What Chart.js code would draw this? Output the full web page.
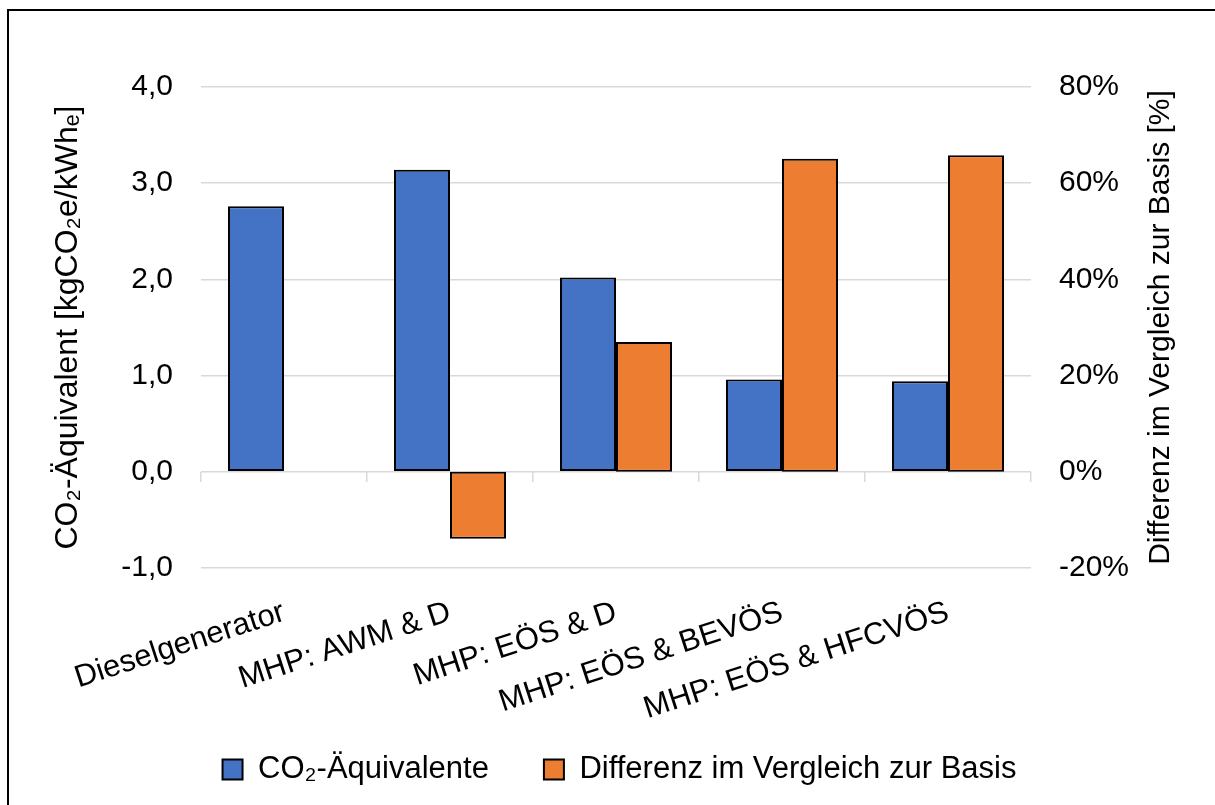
<!DOCTYPE html>
<html>
<head>
<meta charset="utf-8">
<script src="https://cdn.jsdelivr.net/npm/chart.js@4.4.1/dist/chart.umd.min.js"></script>
<style>
  html, body { margin: 0; padding: 0; background: #fff; }
  #wrap { position: relative; width: 1215px; height: 805px; overflow: hidden; }
  #wrap canvas { position: absolute; left: 0; top: 0; }
  #frame {
    position: absolute; left: 7px; top: 9px; width: 1240px; height: 840px;
    border: 2px solid #000; box-sizing: border-box; pointer-events: none;
  }
</style>
</head>
<body>
<div id="wrap">
  <canvas id="chart" width="1215" height="805"></canvas>
  <div id="frame"></div>
</div>
<script>
// Scenarios compared
const categories = [
  'Dieselgenerator',
  'MHP: AWM & D',
  'MHP: EÖS & D',
  'MHP: EÖS & BEVÖS',
  'MHP: EÖS & HFCVÖS'
];
// kgCO2e per kWh_e
const co2Values = [2.76, 3.14, 2.02, 0.96, 0.94];
// change relative to the diesel baseline, in percent
const diffValues = [null, -13.9, 27.0, 65.1, 65.8];

const seriesNames = ['CO₂-Äquivalente', 'Differenz im Vergleich zur Basis'];
const leftTitle = 'CO₂-Äquivalent [kgCO₂e/kWhₑ]';
const rightTitle = 'Differenz im Vergleich zur Basis [%]';

const FONT = '"Liberation Sans", Arial, sans-serif';
const GRID = '#d9d9d9';

const axisExtras = {
  id: 'axisExtras',
  beforeDraw(chart) {
    // let the slanted category labels run below the axis box
    chart.scales.x._computeLabelArea = () => undefined;
  },
  // right-hand axis title reads bottom-to-top
  afterDraw(chart) {
    const s = chart.scales.y2;
    const ctx = chart.ctx;
    ctx.save();
    ctx.font = '30px ' + FONT;
    ctx.fillStyle = '#000';
    ctx.textAlign = 'center';
    ctx.textBaseline = 'middle';
    ctx.translate(s.right - 54, (s.top + s.bottom) / 2);
    ctx.rotate(-Math.PI / 2);
    ctx.fillText(rightTitle, 0, 0);
    ctx.restore();
  }
};

new Chart(document.getElementById('chart'), {
  type: 'bar',
  data: {
    labels: categories,
    datasets: [
      {
        label: seriesNames[0],
        data: co2Values,
        backgroundColor: '#4472c4',
        borderColor: '#000',
        borderWidth: 2,
        borderSkipped: false,
        xAxisID: 'x',
        yAxisID: 'y'
      },
      {
        label: seriesNames[1],
        data: diffValues,
        backgroundColor: '#ed7d31',
        borderColor: '#000',
        borderWidth: 2,
        borderSkipped: false,
        xAxisID: 'x',
        yAxisID: 'y2'
      }
    ]
  },
  options: {
    responsive: false,
    animation: false,
    devicePixelRatio: 1,
    categoryPercentage: 0.675,
    barPercentage: 1,
    layout: { padding: { top: 87, left: 24, right: 0, bottom: 10 } },
    plugins: {
      tooltip: { enabled: false },
      legend: {
        position: 'bottom',
        labels: {
          boxWidth: 20,
          boxHeight: 20,
          padding: 55,
          color: '#000',
          font: { family: FONT, size: 31 }
        }
      }
    },
    scales: {
      x: {
        type: 'category',
        position: 'bottom',
        grid: { display: false },
        border: { display: false },
        ticks: {
          autoSkip: false,
          minRotation: 18,
          maxRotation: 18,
          padding: 18,
          color: '#000',
          font: { family: FONT, size: 31 }
        },
        afterFit(scale) { scale.height = 131; }
      },
      // zero line tick marks between categories
      x2: {
        type: 'category',
        position: { y: 0 },
        grid: {
          display: true,
          offset: true,
          drawOnChartArea: false,
          drawTicks: true,
          tickLength: 10,
          color: GRID,
          lineWidth: 1.5
        },
        border: { display: false },
        ticks: { display: false }
      },
      y: {
        position: 'left',
        min: -1,
        max: 4,
        ticks: {
          stepSize: 1,
          padding: 28,
          color: '#000',
          font: { family: FONT, size: 30 },
          callback: (v) => v.toFixed(1).replace('.', ',')
        },
        grid: { color: GRID, lineWidth: 1.5, drawTicks: false },
        border: { display: false },
        title: {
          display: true,
          text: leftTitle,
          color: '#000',
          font: { family: FONT, size: 32 },
          padding: { top: 25 }
        },
        afterFit(scale) { scale.width = 177; }
      },
      y2: {
        position: 'right',
        min: -20,
        max: 80,
        ticks: {
          stepSize: 20,
          padding: 28,
          color: '#000',
          font: { family: FONT, size: 30 },
          callback: (v) => v + '%'
        },
        grid: { display: false, drawTicks: false },
        border: { display: false },
        afterFit(scale) { scale.width = 184; }
      }
    }
  },
  plugins: [axisExtras]
});
</script>
</body>
</html>
